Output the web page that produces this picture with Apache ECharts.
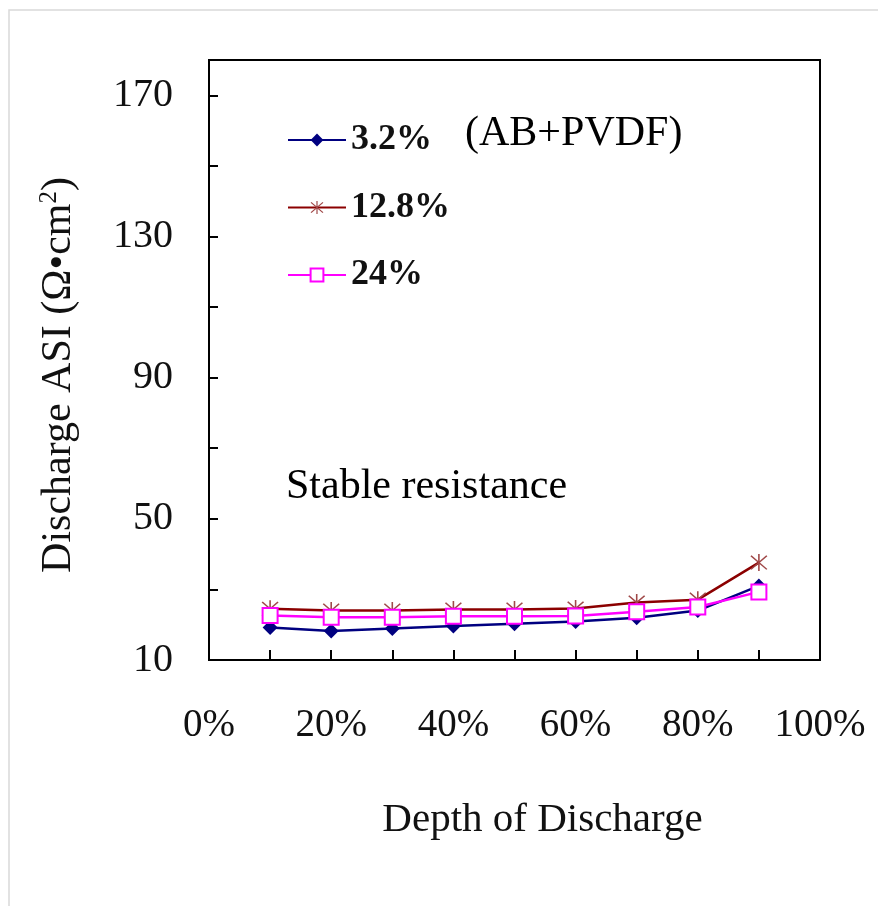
<!DOCTYPE html>
<html>
<head>
<meta charset="utf-8">
<script src="https://cdn.jsdelivr.net/npm/echarts@6/dist/echarts.min.js"></script>
<style>
html,body{margin:0;padding:0;background:#fff;}
#chart{width:878px;height:906px;}
</style>
</head>
<body>
<div id="chart"></div>
<script>
// Data
const depthOfDischarge = [10, 20, 30, 40, 50, 60, 70, 80, 90];
const seriesNames = ['3.2%', '12.8%', '24%'];
const asi_3_2 = [19.2, 18.2, 18.9, 19.6, 20.3, 20.9, 22.0, 24.0, 31.0];
const asi_12_8 = [24.5, 24.0, 24.0, 24.3, 24.3, 24.6, 26.3, 27.1, 37.6];
const asi_24 = [22.6, 22.1, 22.1, 22.4, 22.4, 22.5, 23.7, 25.0, 29.3];
const xTickLabels = [0, 20, 40, 60, 80, 100];
const yTickLabels = [10, 50, 90, 130, 170];

const FONT = '"Liberation Serif", "Times New Roman", serif';
const starPath = 'path://M9.2,0L10.8,0L10.8,20L9.2,20Z' +
  'M2.57,1.43L18.57,17.43L17.43,18.57L1.43,2.57Z' +
  'M17.43,1.43L18.57,2.57L2.57,18.57L1.43,17.43Z';

function pairs(vals) { return depthOfDischarge.map((d, i) => [d, vals[i]]); }

const chart = echarts.init(document.getElementById('chart'), null, {renderer: 'canvas'});
chart.setOption({
  backgroundColor: '#fff',
  animation: false,
  grid: {
    left: 209, right: 58, top: 60, bottom: 246,
    show: true, borderColor: '#000', borderWidth: 2
  },
  legend: {
    orient: 'vertical',
    left: 282, top: 115,
    itemWidth: 58, itemHeight: 16, itemGap: 27.5,
    textStyle: {fontFamily: FONT, fontSize: 36, fontWeight: 'bold', color: '#111', lineHeight: 40},
    data: seriesNames
  },
  xAxis: {
    type: 'value', min: 0, max: 100, interval: 10,
    name: 'Depth of Discharge', nameLocation: 'middle', nameGap: 140,
    nameTextStyle: {fontFamily: FONT, fontSize: 41, color: '#111', padding: [0, 0, 0, 56]},
    axisLine: {lineStyle: {color: '#000', width: 2}},
    axisTick: {inside: true, length: 10, lineStyle: {color: '#000', width: 2}},
    splitLine: {show: false},
    axisLabel: {
      margin: 46, fontFamily: FONT, fontSize: 39, color: '#111',
      formatter: v => xTickLabels.indexOf(v) >= 0 ? v + '%' : ''
    }
  },
  yAxis: {
    type: 'value', min: 10, max: 180, interval: 20,
    name: 'Discharge ASI (Ω•cm{sup|2})', nameLocation: 'middle', nameGap: 129,
    nameTextStyle: {
      fontFamily: FONT, fontSize: 42, color: '#111', padding: [0, 30, 0, 0],
      rich: {sup: {fontFamily: FONT, fontSize: 25, color: '#111', padding: [0, 0, 18, 0]}}
    },
    axisLine: {lineStyle: {color: '#000', width: 2}},
    axisTick: {inside: true, length: 9, lineStyle: {color: '#000', width: 2}},
    splitLine: {show: false},
    axisLabel: {
      margin: 36, fontFamily: FONT, fontSize: 40, color: '#111',
      formatter: v => yTickLabels.indexOf(v) >= 0 ? String(v) : ''
    }
  },
  graphic: [
    {type: 'rect', z: -10, shape: {x: 9, y: 10, width: 900, height: 920},
     style: {fill: 'none', stroke: '#d9d9d9', lineWidth: 1.5}},
    {type: 'text', left: 465, top: 113,
     style: {text: '(AB+PVDF)', fontFamily: FONT, fontSize: 42, fill: '#000'}},
    {type: 'text', left: 286, top: 466,
     style: {text: 'Stable resistance', fontFamily: FONT, fontSize: 42, fill: '#000'}}
  ],
  series: [
    {
      name: seriesNames[0], type: 'line', data: pairs(asi_3_2),
      symbol: 'diamond', symbolSize: 15,
      lineStyle: {color: '#000080', width: 2.5},
      itemStyle: {color: '#000080'}
    },
    {
      name: seriesNames[1], type: 'line', data: pairs(asi_12_8),
      symbol: starPath, symbolSize: 17,
      lineStyle: {color: '#8b0000', width: 2.5},
      itemStyle: {color: '#a04848'}
    },
    {
      name: seriesNames[2], type: 'line', data: pairs(asi_24),
      symbol: 'emptyRect', symbolSize: 15,
      lineStyle: {color: '#ff00ff', width: 2.5},
      itemStyle: {color: '#ff00ff', borderWidth: 2}
    }
  ]
});
</script>
</body>
</html>
